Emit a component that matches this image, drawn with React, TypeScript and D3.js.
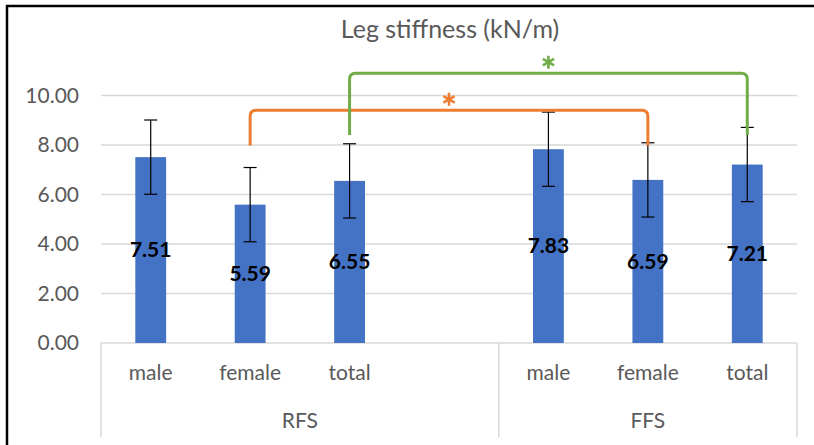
import React, { useEffect } from 'react';
import * as d3 from 'd3';

// chart data
const categories = ['male', 'female', 'total', '', 'male', 'female', 'total'];
const groupOf = ['RFS', 'RFS', 'RFS', 'RFS', 'FFS', 'FFS', 'FFS'];
const groupLabels = ['RFS', 'FFS'];
const values = [7.51, 5.59, 6.55, null, 7.83, 6.59, 7.21];
const errors = [1.5, 1.5, 1.5, null, 1.5, 1.5, 1.5];
const yTicks = [0, 2, 4, 6, 8, 10];
// significance brackets: from/to category index, low/high in data units
const brackets = [
  { from: 1, to: 5, low: 7.98, high: 9.4, color: '#ED7D31' },
  { from: 2, to: 6, low: 8.4, high: 10.9, color: '#70AD47' },
];

const width = 814;
const height = 445;
const left = 101;
const right = 797;
const top = 95.5;
const bottom = 343;
const font = 'Lato, "Open Sans", sans-serif';
const gray = '#595959';

const ids = categories.map((c, i) => `${i}`);
const x = d3.scaleBand<string>().domain(ids).range([left, right]);
const y = d3.scaleLinear().domain([0, 10]).range([bottom, top]);
const barW = x.bandwidth() * 0.31;
const cx = (i: number) => (x(ids[i]) as number) + x.bandwidth() / 2;

const bracketPath = (b) => {
  const r = 6;
  const x1 = cx(b.from);
  const x2 = cx(b.to);
  const yl = y(b.low);
  const yh = y(b.high);
  const p = d3.path();
  p.moveTo(x1, yl);
  p.lineTo(x1, yh + r);
  p.quadraticCurveTo(x1, yh, x1 + r, yh);
  p.lineTo(x2 - r, yh);
  p.quadraticCurveTo(x2, yh, x2, yh + r);
  p.lineTo(x2, yl);
  return p.toString();
};

const asterisk = (px: number, py: number, r: number) => {
  const p = d3.path();
  [90, 30, 150].forEach(a => {
    const rad = (a * Math.PI) / 180;
    p.moveTo(px - r * Math.cos(rad), py - r * Math.sin(rad));
    p.lineTo(px + r * Math.cos(rad), py + r * Math.sin(rad));
  });
  return p.toString();
};

export default function App() {
  useEffect(() => {
    document.body.style.margin = '0';
    document.body.style.overflow = 'hidden';
  }, []);

  // group extents along the category axis
  const groupSpans = groupLabels.map(g => {
    const idx = groupOf.map((v, i) => (v === g ? i : -1)).filter(i => i >= 0);
    const x0 = x(ids[idx[0]]) as number;
    const x1 = (x(ids[idx[idx.length - 1]]) as number) + x.bandwidth();
    return { g, x0, x1 };
  });
  const seps = [left, ...groupSpans.map(s => s.x1)];

  return (
    <svg width={width} height={height} style={{ display: 'block', background: '#fff' }}>
      <rect x={0} y={0} width={width} height={height} fill="#fff" />
      {/* outer frame, only left and top edges fall inside the picture */}
      <line x1={7} x2={7} y1={5} y2={height} stroke="#000" strokeWidth={2.5} />
      <line x1={6} x2={width} y1={6} y2={6} stroke="#000" strokeWidth={2.5} />

      <text x={450} y={38} textAnchor="middle" fontFamily={font} fontSize={25} fill={gray}>
        Leg stiffness (kN/m)
      </text>

      {yTicks.map(t => (
        <g key={t}>
          {t > 0 && <line x1={left} x2={right} y1={y(t)} y2={y(t)} stroke="#d9d9d9" strokeWidth={1.5} />}
          <text x={79} y={y(t)} dy="0.35em" textAnchor="end" fontFamily={font} fontSize={21} fill={gray}>
            {t.toFixed(2)}
          </text>
        </g>
      ))}

      {/* category axis */}
      <line x1={left} x2={right} y1={bottom} y2={bottom} stroke="#d9d9d9" strokeWidth={1.5} />
      {seps.map((s, i) => (
        <line key={i} x1={s} x2={s} y1={bottom} y2={437} stroke="#d9d9d9" strokeWidth={1.5} />
      ))}
      {categories.map((c, i) => (
        <text key={i} x={cx(i)} y={373} dy="0.35em" textAnchor="middle" fontFamily={font} fontSize={21} fill={gray}>
          {c}
        </text>
      ))}
      {groupSpans.map(s => (
        <text key={s.g} x={(s.x0 + s.x1) / 2} y={421} dy="0.35em" textAnchor="middle" fontFamily={font} fontSize={21} fill={gray}>
          {s.g}
        </text>
      ))}

      {/* bars */}
      {values.map((v, i) =>
        v == null ? null : (
          <rect key={i} x={cx(i) - barW / 2} y={y(v)} width={barW} height={bottom - y(v)} fill="#4472C4" />
        )
      )}

      {/* error bars */}
      {values.map((v, i) => {
        if (v == null) return null;
        const e = errors[i] as number;
        const c = cx(i);
        return (
          <g key={i} stroke="#000" strokeWidth={1.2}>
            <line x1={c} x2={c} y1={y(v + e)} y2={y(v - e)} />
            <line x1={c - 6.5} x2={c + 6.5} y1={y(v + e)} y2={y(v + e)} />
            <line x1={c - 6.5} x2={c + 6.5} y1={y(v - e)} y2={y(v - e)} />
          </g>
        );
      })}

      {/* data labels */}
      {values.map((v, i) =>
        v == null ? null : (
          <text key={i} x={cx(i)} y={y(v / 2)} dy="0.35em" textAnchor="middle" fontFamily={font} fontWeight="bold" fontSize={21} fill="#000">
            {v.toFixed(2)}
          </text>
        )
      )}

      {/* significance brackets */}
      {brackets.map((b, i) => (
        <g key={i}>
          <path d={bracketPath(b)} fill="none" stroke={b.color} strokeWidth={3} />
          <path
            d={asterisk((cx(b.from) + cx(b.to)) / 2, y(b.high) - 11, 6.5)}
            stroke={b.color}
            strokeWidth={2.6}
            fill="none"
          />
        </g>
      ))}
    </svg>
  );
}
